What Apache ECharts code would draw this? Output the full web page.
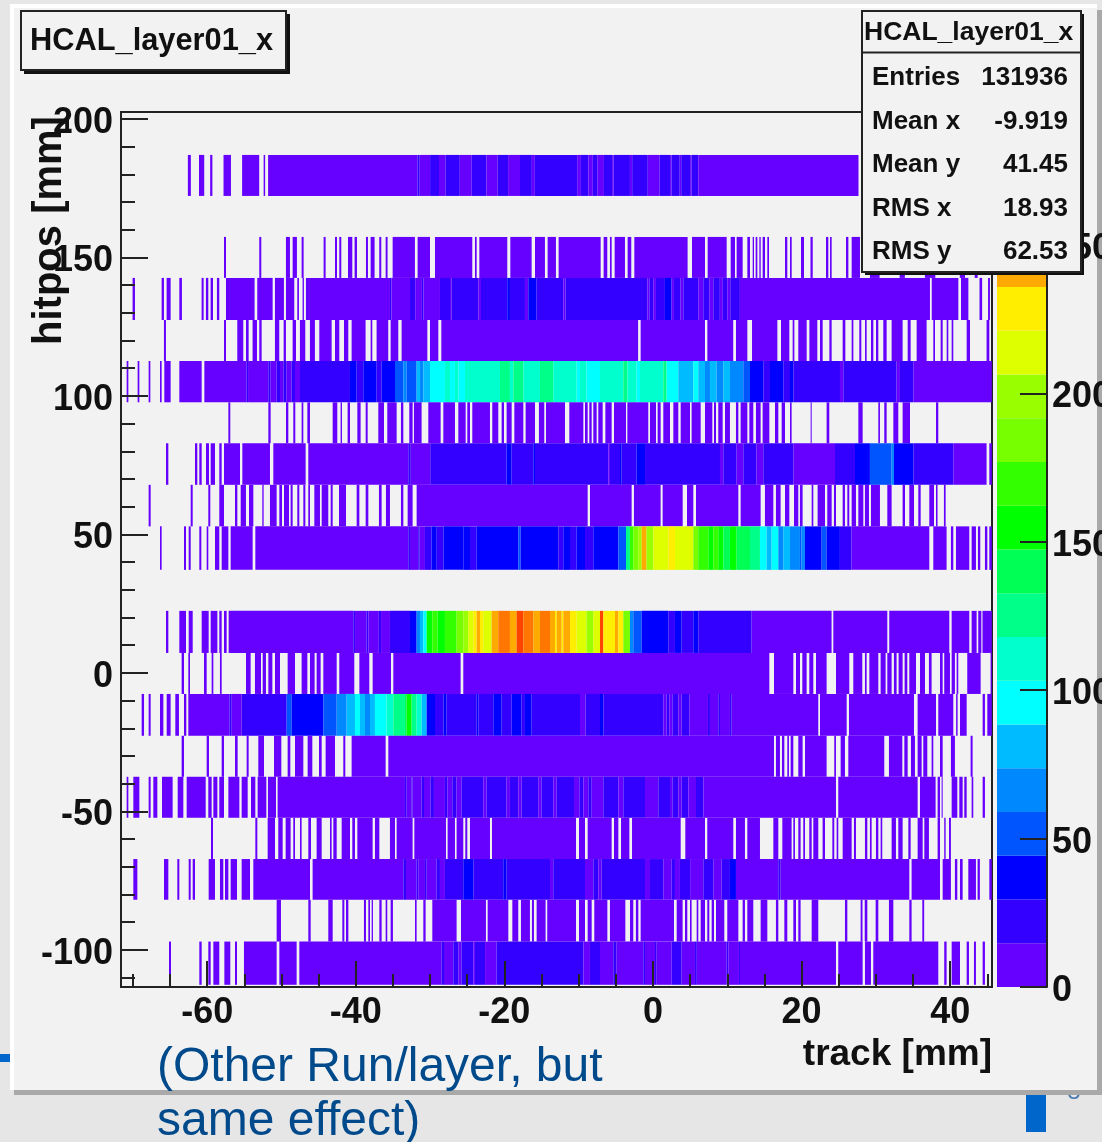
<!DOCTYPE html>
<html><head><meta charset="utf-8">
<script src="https://cdn.jsdelivr.net/npm/echarts@6/dist/echarts.min.js"></script>
<style>html,body{margin:0;padding:0;background:#e6e6e6}#main{width:1102px;height:1142px;filter:blur(0.6px)}</style>
</head><body><div id="main"></div>
<script>
// ---- axis ticks ----
const xMajorTicks = [-60,-40,-20,0,20,40];
const xMinorTicks = [-70,-65,-55,-50,-45,-35,-30,-25,-15,-10,-5,5,10,15,25,30,35,45];
const yMajorTicks = [-100,-50,0,50,100,150,200];
const yMinorTicks = [-110,-90,-80,-70,-60,-40,-30,-20,-10,10,20,30,40,60,70,80,90,110,120,130,140,160,170,180,190];
const zTicks = [0,50,100,150,200,250];
// ---- palette (20 contour levels, count per level = 14.74) ----
const levelStep = 14.74;
const levelColors = ['#6600ff','#3300ff','#0000ff','#0055ff','#0088ff','#00bbff','#00ffff','#00ffcc','#00ff88','#00ff55','#00ff00','#33ff00','#77ff00','#99ff00','#ddff00','#ffee00','#ffaa00','#ff7700','#ff4400','#ff0000'];
// ---- hitpos bin edges [mm], top to bottom ----
const yBinEdges = [187,172.2,157.4,142.6,127.4,112.6,97.7,82.9,67.9,52.9,37.2,22.4,7.2,-7.6,-22.7,-37.5,-52.3,-67.2,-81.9,-97,-112.6];
// ---- each row: occupied track spans (start,end,start,end...) and counts (x from which the count holds, count) ----
const row00Spans = [-62.6,-62.2,-61.1,-60.4,-59.6,-59.3,-57.8,-56.8,-55.3,-53.0,-52.4,-52.2,-51.8,27.66];
const row00Counts = [-62.6,7,-31.7,22,-31.4,7,-30.0,22,-28.8,7,-27.9,22,-26.0,7,-24.4,22,-22.4,7,-20.9,22,-19.5,7,-17.9,22,-16.3,7,-15.9,22,-10.2,7,-9.7,22,-8.7,7,-8.1,22,-7.5,7,-6.6,22,-5.5,7,-5.3,22,-3.1,7,-2.8,22,-0.7,7,0.9,22,2.3,7,2.5,22,3.6,7,3.8,22,5,7,5.2,22,6.1,7];
const row01Spans = [];
const row01Counts = [];
const row02Spans = [-57.74,-57.47,-52.99,-52.72,-49.4,-48.86,-48.5,-47.92,-47.29,-47.02,-44.33,-44.06,-42.8,-42.53,-42.22,-41.95,-41.05,-40.47,-40.16,-39.84,-38.63,-38.36,-38,-37.47,-36.84,-36.57,-35.98,-35.72,-35.04,-32.04,-31.68,-30.01,-29.34,-24.32,-23.96,-23.73,-23.37,-19.61,-19.2,-16.33,-15.88,-14.54,-14.18,-13.06,-12.7,-7.04,-6.64,-6.15,-5.79,-5.56,-5.16,-3.77,-3.41,-2.92,-2.51,4.66,5.25,7.0,7.36,9.92,10.46,11.04,11.26,12.07,12.7,13.06,13.42,13.6,13.82,14.05,14.32,14.5,14.76,15.08,15.39,15.62,17.77,18.08,18.44,18.67,19.92,20.33,21.2,21.5,23.29,23.6,23.83,24.05,25.98,26.3,26.74,27.86,29.2,30.5,33.2,33.9,36.6,38,41.3,42,43.3,43.7];
const row02Counts = [-57.74,7];
const row03Spans = [-70.04,-69.72,-66.13,-65.82,-65.46,-64.92,-63.75,-63.4,-60.75,-60.48,-60.17,-59.85,-59.54,-59.22,-58.69,-58.37,-57.47,-53.62,-53.26,-51.19,-50.88,-49.67,-49.4,-48.28,-47.87,-47.65,-47.16,-46.98,-46.71,37.28,37.52,41.1,41.46,42.45,43.95,44.3,45.1,45.35];
const row03Counts = [-70.04,7,-35.4,22,-35.2,7,-32.7,22,-32,7,-31.1,22,-30.9,7,-28.67,22,-27.32,7,-27.1,22,-23.51,7,-23.15,22,-19.61,37,-19.25,22,-17.23,7,-16.78,37,-15.66,22,-12.07,7,-11.76,22,-0.76,7,-0.49,22,0.04,7,0.4,22,1.61,37,2.51,7,2.82,22,3.72,7,4.08,22,6.1,7,6.77,22,7.58,7,8.12,22,9.0,7,9.4,22,10.0,7,10.4,22,11.7,7];
const row04Spans = [-65.82,-65.55,-57.74,-57.47,-55.95,-55.14,-54.78,-54.42,-53.89,-53.3,-52.99,-52.67,-50.88,-50.3,-49.71,-49.4,-48.5,-48.05,-47.52,-46.8,-46.17,-45.5,-44.91,-43.25,-42.8,-42.22,-41.59,-41.01,-40.56,-38.68,-38,-37.78,-37.2,-35.63,-35.31,-34.28,-33.83,-30.37,-30.01,-28.89,-28.49,-2,-1.66,7,7.32,10.8,11.17,12.7,13.33,16.74,17.23,18.35,18.8,19.03,19.56,20.69,21.05,22.12,22.48,22.84,23.74,24.05,25.53,25.89,26.74,26.97,27.77,28.04,28.54,28.76,29.34,29.66,30.02,30.33,31,31.45,32.12,33.6,34.28,34.68,35.49,36.83,37.73,37.96,38.72,38.99,39.53,39.75,40.2,40.42,42.22,42.67,44.9,45.27];
const row04Counts = [-65.82,7];
const row05Spans = [-70.84,-70.61,-69.36,-69.13,-67.88,-67.65,-66.35,-66.13,-65.77,-64.92,-63.75,-60.74,-60.38,45.6];
const row05Counts = [-70.84,7,-54.69,22,-54.5,7,-51.77,22,-51.46,7,-50.65,22,-50.2,7,-49.75,22,-49.3,7,-48.63,22,-48.18,7,-47.51,22,-40.78,37,-39.88,22,-38.99,37,-37.19,22,-36.52,37,-34.72,51,-33.6,66,-33.15,51,-31.81,81,-31.36,66,-30.91,81,-30.01,96,-28,110,-27.32,96,-26.65,110,-26.2,96,-25.3,111,-20.59,125,-19.25,111,-18.8,125,-17.45,111,-15.21,125,-13.42,111,-10.27,96,-9.82,111,-8.93,96,-7.13,111,-3.99,125,-3.45,111,-2.2,96,-1.75,111,1.39,125,1.84,96,3.41,81,5.43,96,6.1,81,7,66,7.67,81,8.57,66,9.47,81,10.36,66,12.16,51,13.06,37,14.85,22,15.75,37,17.54,22,18.44,37,18.89,22,25.17,7,25.62,22,32.79,7,33.24,22,35.04,7];
const row06Spans = [-57.15,-56.89,-51.77,-51.46,-49.39,-49.08,-48.41,-48.14,-47.29,-47.06,-46.52,-46.16,-43.11,-42.49,-42.04,-41.86,-41.1,-40.78,-39.79,-39.35,-38.67,-38.4,-36.97,-36.2,-35.76,-34.5,-33.92,-33.6,-32.8,-32.35,-32.17,-31.14,-30.24,-28.58,-28.22,-26.65,-26.2,-25.21,-24.99,-24.63,-24.32,-21.94,-21.63,-20.82,-20.37,-20.05,-19.7,-19.02,-18.66,-17.45,-17.14,-15.88,-15.35,-14.63,-14.4,-11.84,-11.26,-9.37,-9.15,-8.79,-8.57,-8.25,-8.03,-7.58,-7.36,-6.77,-6.41,-5.56,-5.25,-3.63,-3.45,-0.63,-0.4,0.41,0.63,1.03,1.39,2.29,2.74,3.41,3.73,4.98,5.2,6.42,7,7.99,8.21,8.48,8.79,9.38,9.69,10.36,11.17,11.49,11.8,12.7,12.97,13.5,13.86,14.49,14.76,15.66,16.42,16.87,17.32,17.77,18.44,18.66,21.22,21.36,23.37,23.73,27.64,28.22,30.33,30.55,31.13,31.45,32.35,33.02,33.6,34.59,38.09,38.4];
const row06Counts = [-57.15,7];
const row07Spans = [-65.54,-65.23,-61.64,-61.33,-61.06,-60.74,-60.16,-59.76,-59.53,-58.95,-58.37,-58.05,-57.74,-55.58,-55.27,-51.55,-51.1,-46.75,-46.39,44.9,45.27,45.6];
const row07Counts = [-65.54,7,-32.93,22,-32.6,7,-29.98,22,-19.7,37,-19.02,22,-16.1,37,-15.88,22,-6.01,7,-5.79,22,-4.44,37,-4.22,22,-2.2,37,-1.07,22,9.02,7,9.47,22,11.26,7,12.16,22,13.95,7,14.85,22,18.89,7,24.5,22,27.19,37,29.2,51,32.12,66,32.43,37,35.04,22,40.42,7];
const row08Spans = [-67.88,-67.61,-62.22,-61.95,-59.85,-59.58,-58.37,-57.74,-56.26,-55.94,-55.49,-54.78,-54.37,-53.79,-52.58,-52.4,-51.55,-50.65,-50.29,-49.93,-49.66,-48.99,-48.77,-48.5,-47.87,-47.6,-47.06,-46.79,-46.39,-46.16,-45.58,-44.82,-44.59,-43.7,-43.38,-43.11,-42.26,-41.32,-39.88,-39.52,-38.67,-38.31,-36.88,-36.52,-35.94,-35.4,-33.92,-33.6,-33.02,-32.35,-31.81,-8.79,-8.48,-2.87,-2.56,1.03,1.3,4,4.58,5.43,5.79,11.49,11.8,14.49,15.07,16.2,16.55,17.18,17.77,18.35,18.98,19.56,19.78,20.14,21.36,21.58,22.16,23.15,23.46,24.05,24.36,24.63,25.53,25.84,26.16,26.42,26.74,27.32,27.64,28.31,28.53,29.07,29.34,30.55,31.54,32.12,33.6,33.92,34.5,35.13,35.71,36.03,37.19,37.82,38.09,38.3,39.16,39.39];
const row08Counts = [-67.88,7];
const row09Spans = [-66.35,-66.13,-63.12,-62.85,-62.49,-62.22,-61.06,-60.79,-60.07,-59.85,-58.95,-58.37,-58.05,-57.15,-56.84,-53.88,-53.52,37.19,37.73,39.52,40.1,40.42,40.78,42.57,42.89,43.47,43.74,44.05,44.68,45,45.27,45.6];
const row09Counts = [-66.35,7,-32.93,22,-32.7,7,-31.6,22,-31.4,7,-30.69,22,-29.8,37,-29.1,22,-28.2,37,-25.53,37,-24.63,22,-23.73,37,-18.13,51,-17.81,37,-12.74,22,-12.07,37,-11.17,22,-10.27,37,-9.15,22,-8.03,37,-4.66,51,-3.63,125,-3.1,170,-2.65,184,-1.97,199,-1.52,243,-0.87,199,0.05,214,2.06,228,2.96,214,5.43,184,6.1,170,7.45,155,8.12,170,8.79,155,9.47,140,10.36,155,11.26,140,13.06,125,14.4,96,15.3,81,15.97,96,16.87,66,17.54,81,18.44,66,19.78,51,20,66,20.45,37,22.7,51,23.37,37,25.16,22,26.73,7];
const row10Spans = [];
const row10Counts = [];
const row11Spans = [-65.54,-65.23,-63.75,-62.85,-62.49,-61.95,-60.74,-59.8,-59.53,-58.63,-58.37,-58.05,-57.74,-57.38,-57.11,24.04,24.27,31.54,31.8,39.88,40.2,42.57,42.89,43.56,43.78,44.2,44.35,45.6];
const row11Counts = [-65.54,7,-40.33,22,-40.1,7,-38.54,22,-38.3,7,-36.9,22,-36.6,7,-35.4,22,-32.7,37,-31.81,66,-31.36,81,-30.91,96,-30.46,155,-29.7,170,-29,155,-28,170,-26.43,184,-25.53,199,-24.86,214,-24.18,228,-23.73,243,-23.28,228,-22.84,214,-21.72,243,-20.82,258,-19.25,243,-18.35,273,-17.45,258,-16.1,243,-15.21,258,-13.86,243,-13.19,228,-12.96,243,-12.29,228,-12.07,243,-11.17,228,-10.27,214,-8.93,199,-8.03,214,-7.13,273,-6.68,228,-5.11,243,-4.66,228,-3.99,184,-3.1,66,-2.65,51,-1.52,37,2.06,22,2.96,37,3.86,22,5.43,37,6.1,22,13.28,7];
const row12Spans = [-63.44,-63.12,-62.54,-62.31,-60.43,-60.07,-59.4,-59.17,-58.28,-58.05,-54.78,-54.15,-53.57,-52.76,-52.53,-52.09,-51.77,-51.23,-50.87,-50.2,-49.17,-48.18,-47.29,-46.52,-46.16,-45.54,-45.27,-44.73,-44.37,-42.57,-42.22,-40.2,-39.52,-38.18,-37.73,-35.26,-34.95,-25.89,-25.53,15.66,16.29,18.89,19.25,19.79,20.1,20.68,21.04,21.58,21.94,23.37,24.63,26.42,26.96,28.17,28.53,28.76,29.12,30.33,30.64,31.31,31.54,32.12,32.43,32.79,33.06,33.6,33.87,34.23,34.5,35.4,35.94,36.61,37.14,37.5,38.63,38.99,39.2,39.97,40.2,40.64,40.87,41.09,42.3,44.1,45.44,45.6];
const row12Counts = [-63.44,7];
const row13Spans = [-68.82,-68.5,-67.88,-67.61,-66.35,-65.9,-65.45,-64.92,-64.29,-63.8,-63.12,-62.81,-62.54,22.25,22.48,26.07,26.38,35.13,35.62,38.09,38.4,40.42,40.8,41,41.32,42.22,44.37,44.68,45,45.6];
const row13Counts = [-68.82,7,-57,22,-56.7,7,-55.36,22,-49.3,51,-48.63,37,-44.37,51,-42.57,66,-41.23,81,-40.11,96,-39.43,81,-38.76,66,-38.09,81,-37.42,96,-35.85,111,-34.95,125,-33.38,140,-33.15,155,-32.48,125,-31.81,111,-31.14,81,-30.46,37,-29.34,22,-28.2,37,-27.77,22,-23.73,37,-23.5,22,-21.49,37,-20.37,22,-19.02,37,-17.68,22,-17.23,37,-16.33,22,-9.82,7,-9.06,22,-7.13,37,-6.68,22,1.39,7,1.84,22,2.2,7,2.65,22,3.41,7,3.86,22,4.89,7,7.4,22,7.67,7,8.79,22,9.02,7,10.36,22,10.59,7];
const row14Spans = [-63.44,-63.12,-60.07,-59.76,-58.05,-57.74,-56.26,-55.9,-54.69,-54.42,-53.12,-52.35,-51.01,-50.02,-49.17,-48.81,-48.18,-47.06,-46.48,-45.85,-44.95,-44.59,-44.06,-42.8,-41.68,-41.41,-40.56,-35.98,-35.62,16.29,16.55,17.09,17.36,17.68,18.08,18.3,18.53,18.89,19.56,20.14,20.46,23.37,24.4,24.63,25.26,25.84,26.29,31.13,31.76,33.56,33.83,34.28,34.72,35.26,35.62,36.16,36.38,36.92,37.5,37.73,38.63,38.99,40.1,40.64,42.75,43.02];
const row14Counts = [-63.44,7];
const row15Spans = [-70.84,-70.61,-69.94,-69.13,-67.88,-67.61,-67.25,-66.71,-66.08,-64.65,-63.97,-63.21,-62.76,-60.2,-59.85,-59.4,-59.17,-58.63,-58.37,-57.74,-57.15,-55.67,-55.36,-54.55,-54.1,-53.52,-53.21,-52.04,-51.82,-50.74,-50.52,24.63,24.94,35.62,35.94,38.04,38.31,38.63,38.85,38.99,40.2,40.96,41.23,41.68,41.9,42.22,42.89,43.11,44.37,44.68];
const row15Counts = [-70.84,7,-33.38,22,-33.15,7,-32.48,22,-32.35,7,-31.14,22,-30.82,7,-29.92,22,-29.48,7,-28,22,-27.68,7,-27.01,22,-26.43,7,-25.75,22,-22.84,7,-22.39,22,-19.7,7,-19.25,22,-18.13,7,-17.68,22,-15.44,7,-14.99,22,-13.42,7,-12.96,22,-10.63,7,-9.91,22,-9.37,7,-8.7,22,-8.25,7,-6.68,22,-4.66,7,-3.99,22,-1.07,7,0.72,22,2.29,7,2.65,22,3.41,7,3.86,22,4.76,7,5.79,22,6.78,7];
const row16Spans = [-59.49,-59.22,-53.52,-53.25,-51.86,-50.87,-50.43,-49.84,-49.44,-48.77,-48.41,-48.18,-47.51,-47.29,-46.39,-46.03,-45.27,-44.59,-43.47,-43.25,-43.02,-42.57,-41.9,-40.78,-40.47,-40.11,-39.79,-37.73,-37.42,-36.83,-35.4,-34.72,-34.5,-32.35,-32.12,-27.86,-27.64,-26.65,-26.43,-25.53,-25.26,-24.99,-24.63,-21.94,-21.67,-10.36,-9.96,-9.15,-8.79,-5.56,-5.25,-4.66,-4.3,-3.18,-2.82,3.73,4.35,7,7.31,10.81,11.17,12.38,12.7,14.4,16.2,16.87,17.41,18.66,18.89,19.11,19.56,19.87,20.23,20.46,21.04,21.36,21.58,22.25,22.83,23.15,24.14,24.4,24.72,24.94,25.53,26.74,27.05,27.32,28.53,28.85,29.2,29.43,30.01,30.33,30.64,30.86,32.12,32.7,33.02,33.6,34.37,34.68,35.62,36.3,36.52,37.14,38.31,38.63,39.2,39.39,39.84,40.1];
const row16Counts = [-59.49,7];
const row17Spans = [-69.94,-69.4,-65.81,-65.23,-64.02,-63.75,-62.49,-62.22,-61.95,-61.64,-59.8,-58.95,-58.28,-57.83,-57.6,-57.15,-56.84,-55.99,-55.36,-54.24,-53.79,-46.16,-45.81,34.5,34.81,38.63,38.99,40.1,40.64,40.96,41.32,41.68,42.44,43.47,43.69,44,45.27,45.6];
const row17Counts = [-69.94,7,-33.6,22,-33.24,7,-31.81,22,-31.59,7,-30.69,22,-30.46,7,-29.12,22,-28.67,7,-28,22,-25.53,37,-24.18,22,-20.15,37,-19.7,22,-13.86,7,-13.42,22,-9.15,7,-8.03,22,-7.36,7,-6.91,22,-1.07,7,-0.4,22,1.39,7,2.51,22,2.96,7,3.63,22,5,7,6.78,22,8.12,7,9.24,22,10.36,37,11.17,7,16.87,22,17.18,7];
const row18Spans = [-50.65,-50.07,-46.39,-46.07,-43.7,-43.11,-41.81,-41.54,-41.32,-41,-38.9,-38.63,-38.31,-38.09,-37.86,-37.69,-36.83,-36.52,-35.98,-35.76,-35.31,-35,-32.03,-31.81,-30.91,-30.6,-29.7,-26.43,-25.84,-22.48,-22.25,-19.47,-18.93,-18.13,-17.77,-16.56,-16.29,-16.02,-15.66,-14.45,-14.23,-10.36,-9.96,-9.15,-8.79,-8.25,-7.9,-6.14,-5.79,-3.72,-3.09,-2.65,-2.3,-1.97,-1.66,2.83,3.19,3.99,4.31,4.62,4.98,5.2,5.88,6.1,6.42,7,7.31,7.58,7.9,8.21,8.48,9.6,10,11.49,12.07,12.38,12.7,13.5,14.49,15.39,16.55,16.87,17.68,18.08,18.89,19.25,19.56,19.87,21.36,22.25,25.84,26.16,27.95,28.2,28.5,28.85,29.97,30.33,31.76,32.35,34.5,34.81,36.25,36.5];
const row18Counts = [-50.65,7];
const row19Spans = [-65.14,-64.87,-61.06,-60.74,-59.85,-59.53,-59.17,-58.37,-57.69,-56.89,-56.26,-55.99,-55.05,-50.65,-50.29,-47.96,-47.6,24.63,24.94,28.22,28.53,29.34,29.65,38.4,39.2,39.52,40.2,41.32,42.22,42.53,43.2,43.47,44.37,44.68];
const row19Counts = [-65.14,7,-28.44,22,-28.13,7,-26.87,22,-26.2,7,-25.75,22,-24.18,7,-23.96,22,-22.6,7,-21.04,22,-9.37,7,-8.48,22,-7.13,7,-5.34,22,-4.89,7,-1.3,22,-1.07,7,0.27,22,0.5,7,2.51,22,3.86,7,5.65,22,5.9,7,9.92,22,10.14,7,11.57,22,11.71,7];

const rowSpans = [row00Spans,row01Spans,row02Spans,row03Spans,row04Spans,row05Spans,row06Spans,row07Spans,row08Spans,row09Spans,row10Spans,row11Spans,row12Spans,row13Spans,row14Spans,row15Spans,row16Spans,row17Spans,row18Spans,row19Spans];
const rowCounts = [row00Counts,row01Counts,row02Counts,row03Counts,row04Counts,row05Counts,row06Counts,row07Counts,row08Counts,row09Counts,row10Counts,row11Counts,row12Counts,row13Counts,row14Counts,row15Counts,row16Counts,row17Counts,row18Counts,row19Counts];

// ---- build cells ----
const cells = [];
rowSpans.forEach((spans, r) => {
  const counts = rowCounts[r];
  for (let i = 0; i + 1 < spans.length; i += 2) {
    const a = spans[i], b = spans[i + 1];
    for (let k = 0; k < counts.length; k += 2) {
      const s = Math.max(a, counts[k]);
      const e = Math.min(b, k + 2 < counts.length ? counts[k + 2] : Infinity);
      if (e > s) cells.push([s, e, yBinEdges[r + 1], yBinEdges[r], counts[k + 1]]);
    }
  }
});
const paletteCells = levelColors.map((c, i) => [0, 1, i * levelStep, (i + 1) * levelStep, (i + 0.5) * levelStep]);

const FONT = '"Liberation Sans", Arial, sans-serif';
const rectItem = (params, api) => {
  const p0 = api.coord([api.value(0), api.value(3)]);
  const p1 = api.coord([api.value(1), api.value(2)]);
  return { type: 'rect', shape: { x: p0[0], y: p0[1], width: p1[0] - p0[0], height: p1[1] - p0[1] },
    style: { fill: api.visual('color') } };
};
const tickText = { fontFamily: FONT, fontWeight: 'bold', fontSize: 36, color: '#111' };
const lineDark = { color: '#222', width: 2 };

// ---- stats box text ----
const statsTitle = 'HCAL_layer01_x';
const statsLabels = ['Entries','Mean x','Mean y','RMS x','RMS y'];
const statsValues = ['131936','-9.919','41.45','18.93','62.53'];
const statsRowY = [78,122,165,209,252];

const chart = echarts.init(document.getElementById('main'), null, { renderer: 'canvas' });
const txt = (text, x, y, size, extra) => ({ type: 'text', z: 102, x, y,
  style: Object.assign({ text, fontFamily: FONT, fontWeight: 'bold', fontSize: size, fill: '#111', verticalAlign: 'middle', align: 'left' }, extra || {}) });
const box = (x, y, w, h, z, fill, stroke) => ({ type: 'rect', z, shape: { x, y, width: w, height: h },
  style: { fill, stroke: stroke || null, lineWidth: stroke ? 2 : 0 } });

chart.setOption({
  animation: false,
  backgroundColor: 'transparent',
  grid: [
    { left: 121, top: 112, width: 871, height: 875, show: true, borderColor: '#222', borderWidth: 2, backgroundColor: 'transparent', containLabel: false, outerBoundsMode: 'none' },
    { left: 997, top: 112, width: 50, height: 875, show: false, containLabel: false, outerBoundsMode: 'none' }
  ],
  xAxis: [
    { type: 'value', gridIndex: 0, z: 5, min: -71.6, max: 45.63, position: 'bottom', splitLine: { show: false },
      axisLine: { onZero: false, lineStyle: lineDark },
      axisTick: { inside: true, length: 26, lineStyle: lineDark, customValues: xMajorTicks },
      axisLabel: Object.assign({ customValues: xMajorTicks, margin: 8, formatter: v => String(v) }, tickText),
      name: 'track [mm]', nameLocation: 'end', nameGap: 0,
      nameTextStyle: { fontFamily: FONT, fontWeight: 'bold', fontSize: 37, color: '#111', align: 'right', verticalAlign: 'top', padding: [49, 0, 0, 0] } },
    { type: 'value', gridIndex: 0, z: 5, min: -71.6, max: 45.63, position: 'bottom', splitLine: { show: false },
      axisLine: { show: false, onZero: false },
      axisTick: { inside: true, length: 13, lineStyle: lineDark, customValues: xMinorTicks },
      axisLabel: { show: false } },
    { type: 'value', gridIndex: 1, min: 0, max: 1, show: false }
  ],
  yAxis: [
    { type: 'value', gridIndex: 0, z: 5, min: -113.4, max: 202.5, position: 'left', splitLine: { show: false },
      axisLine: { onZero: false, lineStyle: lineDark },
      axisTick: { inside: true, length: 27, lineStyle: lineDark, customValues: yMajorTicks },
      axisLabel: Object.assign({ customValues: yMajorTicks, margin: 8, verticalAlign: 'top', lineHeight: 8, formatter: v => String(v) }, tickText),
      name: 'hitpos [mm]', nameLocation: 'middle', nameGap: 51, nameRotate: 90, nameMoveOverlap: false,
      nameTextStyle: { fontFamily: FONT, fontWeight: 'bold', fontSize: 40, color: '#111', padding: [0, 0, 0, 638] } },
    { type: 'value', gridIndex: 0, z: 5, min: -113.4, max: 202.5, position: 'left', splitLine: { show: false },
      axisLine: { show: false, onZero: false },
      axisTick: { inside: true, length: 14, lineStyle: lineDark, customValues: yMinorTicks },
      axisLabel: { show: false } },
    { type: 'value', gridIndex: 1, z: 5, min: 0, max: 294.8, position: 'right', splitLine: { show: false },
      axisLine: { show: true, onZero: false, lineStyle: lineDark },
      axisTick: { show: true, inside: true, length: 27, lineStyle: lineDark, customValues: zTicks },
      axisLabel: Object.assign({ show: true, customValues: zTicks, margin: 5, verticalAlign: 'top', lineHeight: 8, formatter: v => String(v) }, tickText) }
  ],
  visualMap: {
    type: 'piecewise', show: false, dimension: 4, seriesIndex: [0, 1],
    pieces: levelColors.map((c, i) => ({ min: i * levelStep, max: (i + 1) * levelStep, color: c }))
  },
  series: [
    { name: 'hits', type: 'custom', coordinateSystem: 'cartesian2d', xAxisIndex: 0, yAxisIndex: 0, z: 2, clip: true,
      dimensions: ['x0','x1','y0','y1','count'], encode: { x: [0, 1], y: [2, 3] }, renderItem: rectItem, data: cells, silent: true },
    { name: 'palette', type: 'custom', coordinateSystem: 'cartesian2d', xAxisIndex: 2, yAxisIndex: 2, z: 2,
      dimensions: ['x0','x1','y0','y1','count'], encode: { x: [0, 1], y: [2, 3] }, renderItem: rectItem, data: paletteCells, silent: true }
  ],
  graphic: { elements: [
    // slide background behind the plot
    { type: 'rect', z: -5, shape: { x: 0, y: 0, width: 1102, height: 1142 }, style: { fill: '#e6e6e6' } },
    { type: 'rect', z: -4, shape: { x: 0, y: 1054, width: 12, height: 8 }, style: { fill: '#0066cc' } },
    { type: 'rect', z: -4, shape: { x: 1026, y: 1090, width: 20, height: 42 }, style: { fill: '#0066cc' } },
    { type: 'text', z: -4, x: 1074, y: 1092, style: { text: '8', fontFamily: FONT, fontSize: 24, fill: '#4a7ab0', align: 'center', verticalAlign: 'middle' } },
    box(14, 10, 1088, 1085, -3, '#a9a9a9'),
    box(10, 4, 1087, 1086, -2, '#ffffff'),
    box(14, 8, 1083, 1082, -1, '#f2f2f2'),
    // title box
    box(24, 14, 266, 60, 100, '#111'),
    box(21, 11, 265, 59, 101, '#f2f2f2', '#222'),
    txt('HCAL_layer01_x', 30, 42, 30.8),
    // stats box
    box(865, 14, 219, 261, 100, '#111'),
    box(862, 11, 219, 261, 101, '#f2f2f2', '#222'),
    { type: 'line', z: 102, shape: { x1: 862, y1: 52.5, x2: 1081, y2: 52.5 }, style: { stroke: '#222', lineWidth: 2 } },
    txt(statsTitle, 864, 33, 26.5),
    ...statsLabels.map((t, i) => txt(t, 872, statsRowY[i], 26)),
    ...statsValues.map((t, i) => txt(t, 1068, statsRowY[i], 26, { align: 'right' })),
    // slide caption
    { type: 'text', z: 103, x: 157, y: 1068, style: { text: '(Other Run/layer, but', fontFamily: FONT, fontSize: 48, fill: '#004a8c', verticalAlign: 'middle' } },
    { type: 'text', z: 103, x: 157, y: 1122, style: { text: 'same effect)', fontFamily: FONT, fontSize: 48, fill: '#004a8c', verticalAlign: 'middle' } }
  ] }
});
</script></body></html>
